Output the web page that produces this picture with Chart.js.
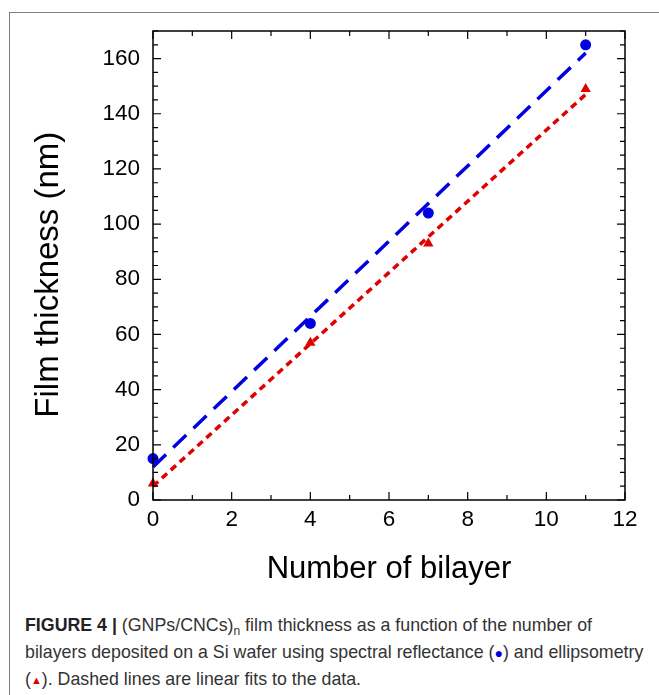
<!DOCTYPE html>
<html>
<head>
<meta charset="utf-8">
<script src="https://cdn.jsdelivr.net/npm/chart.js@4/dist/chart.umd.min.js"></script>
<style>
    body { margin: 0; background: #fff; width: 659px; height: 695px; overflow: hidden; position: relative; }
    #frame { position: absolute; left: 9px; top: 12px; width: 720px; height: 720px; border-left: 1.5px solid #808080; border-top: 1.5px solid #808080; }
    #wrap { position: absolute; left: 0; top: 0; width: 659px; height: 600px; }
    #caption { position: absolute; left: 25px; top: 612px; font-family: "Liberation Sans", Arial, sans-serif; font-size: 17.8px; line-height: 27px; color: #333; white-space: nowrap; }
    #caption b { color: #222; }
    .sub { font-size: 12px; position: relative; top: 4px; line-height: 0; }
    .dot { color: #0000dd; font-size: 14px; line-height: 0; }
    .tri { color: #dd0000; font-size: 11px; line-height: 0; position: relative; top: -1px; }
</style>
</head>
<body>
<div id="frame"></div>
<div id="wrap"><canvas id="chart" width="659" height="600"></canvas></div>
<div id="caption">
    <b>FIGURE 4 |</b> (GNPs/CNCs)<span class="sub">n</span> film thickness as a function of the number of<br>
    bilayers deposited on a Si wafer using spectral reflectance (<span class="dot">●</span>) and ellipsometry<br>
    (<span class="tri">▲</span>). Dashed lines are linear fits to the data.
</div>
<script>
// measured points
const bilayers = [0, 4, 7, 11];
const reflectance = [15, 64, 104, 165];
const ellipsometry = [6, 57, 93, 149];

// linear fit lines, ends
const fitX = [0, 11];
const reflectanceFit = [12, 162];
const ellipsometryFit = [5, 147];

const xTicks = [0, 2, 4, 6, 8, 10, 12];
const yTicks = [0, 20, 40, 60, 80, 100, 120, 140, 160];

const toPoints = (xs, ys) => xs.map((x, i) => ({ x: x, y: ys[i] }));

// box on all four sides with inward major/minor ticks
const boxTicks = {
    id: 'boxTicks',
    afterDraw(chart) {
        const ctx = chart.ctx;
        const a = chart.chartArea;
        const xs = chart.scales.x, ys = chart.scales.y;
        ctx.save();
        ctx.strokeStyle = '#000';
        ctx.lineWidth = 1.5;
        ctx.beginPath();
        ctx.rect(a.left, a.top, a.right - a.left, a.bottom - a.top);
        ctx.stroke();
        ctx.lineWidth = 1.2;
        ctx.beginPath();
        for (let v = xs.min; v <= xs.max; v += 1) {
            const px = xs.getPixelForValue(v);
            const len = xTicks.includes(v) ? 8 : 5;
            ctx.moveTo(px, a.bottom); ctx.lineTo(px, a.bottom - len);
            ctx.moveTo(px, a.top); ctx.lineTo(px, a.top + len);
        }
        for (let v = ys.min; v <= ys.max; v += 5) {
            const py = ys.getPixelForValue(v);
            const len = yTicks.includes(v) ? 8 : 5;
            ctx.moveTo(a.left, py); ctx.lineTo(a.left + len, py);
            ctx.moveTo(a.right, py); ctx.lineTo(a.right - len, py);
        }
        ctx.stroke();
        ctx.restore();
    }
};

new Chart(document.getElementById('chart').getContext('2d'), {
    type: 'scatter',
    data: {
        datasets: [
            {
                label: 'Spectral reflectance',
                data: toPoints(bilayers, reflectance),
                pointStyle: 'circle',
                pointRadius: 5.5,
                backgroundColor: '#0000e0',
                borderColor: '#0000e0',
                borderWidth: 0,
                showLine: false,
                order: 0
            },
            {
                label: 'Ellipsometry',
                data: toPoints(bilayers, ellipsometry),
                pointStyle: 'triangle',
                pointRadius: 6,
                backgroundColor: '#e00000',
                borderColor: '#e00000',
                borderWidth: 0,
                showLine: false,
                order: 1
            },
            {
                label: 'Reflectance fit',
                data: toPoints(fitX, reflectanceFit),
                showLine: true,
                pointRadius: 0,
                borderColor: '#0000e0',
                borderWidth: 3.5,
                borderDash: [18, 10],
                order: 2
            },
            {
                label: 'Ellipsometry fit',
                data: toPoints(fitX, ellipsometryFit),
                showLine: true,
                pointRadius: 0,
                borderColor: '#e00000',
                borderWidth: 3.5,
                borderDash: [7, 5],
                order: 3
            }
        ]
    },
    options: {
        responsive: false,
        animation: false,
        clip: false,
        layout: { padding: { left: 0, top: 31, right: 34, bottom: 0 } },
        plugins: { legend: { display: false }, tooltip: { enabled: false } },
        scales: {
            x: {
                type: 'linear',
                min: 0,
                max: 12,
                afterBuildTicks: s => { s.ticks = xTicks.map(v => ({ value: v })); },
                afterFit: s => { s.height = 100; },
                grid: { display: false, drawTicks: false },
                border: { display: false },
                ticks: { color: '#000', padding: 6, maxRotation: 0, font: { family: 'Liberation Sans', size: 22.5 } },
                title: { display: true, text: 'Number of bilayer', color: '#000', padding: { bottom: 12 }, font: { family: 'Liberation Sans', size: 31 } }
            },
            y: {
                type: 'linear',
                min: 0,
                max: 170,
                afterBuildTicks: s => { s.ticks = yTicks.map(v => ({ value: v })); },
                afterFit: s => { s.width = 153; },
                grid: { display: false, drawTicks: false },
                border: { display: false },
                ticks: { color: '#000', padding: 13, font: { family: 'Liberation Sans', size: 22.5 } },
                title: { display: true, text: 'Film thickness (nm)  ', color: '#000', padding: { top: 29 }, font: { family: 'Liberation Sans', size: 33 } }
            }
        }
    },
    plugins: [boxTicks]
});
</script>
</body>
</html>
